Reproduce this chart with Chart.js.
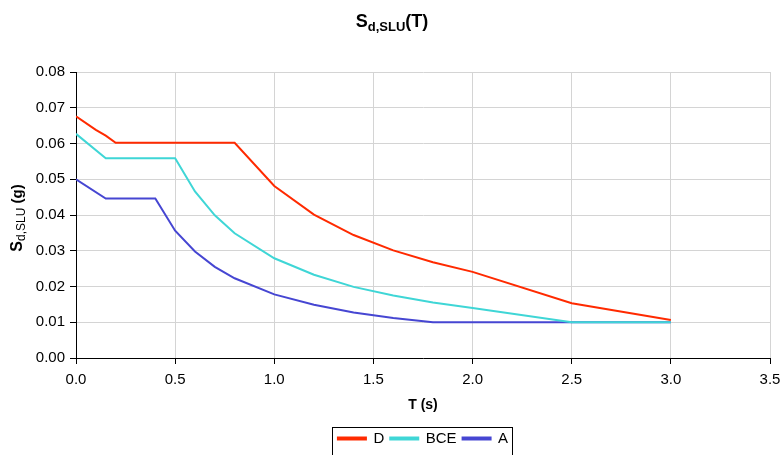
<!DOCTYPE html>
<html>
<head>
<meta charset="utf-8">
<script src="https://cdn.jsdelivr.net/npm/chart.js@4"></script>
<style>
  html, body { margin: 0; padding: 0; background: #fff; }
  #wrap { width: 783px; height: 455px; position: relative; }
</style>
</head>
<body>
<div id="wrap"><canvas id="chart"></canvas></div>
<script>
// values
const tD = [0, 0.1, 0.15, 0.2, 0.8, 1.0, 1.2, 1.4, 1.6, 1.8, 2.0, 2.5, 3.0];
const sD = [0.0676, 0.0638, 0.0622, 0.0602, 0.0602, 0.0481, 0.0401, 0.0344, 0.0301, 0.0268, 0.0241, 0.0153, 0.0106];

const tBCE = [0, 0.15, 0.5, 0.6, 0.7, 0.8, 1.0, 1.2, 1.4, 1.6, 1.8, 2.0, 2.5, 3.0];
const sBCE = [0.0627, 0.0559, 0.0559, 0.0466, 0.0399, 0.0349, 0.0279, 0.0233, 0.0199, 0.0175, 0.0155, 0.0140, 0.0100, 0.0100];

const tA = [0, 0.15, 0.4, 0.5, 0.6, 0.7, 0.8, 1.0, 1.2, 1.4, 1.6, 1.8, 2.5, 3.0];
const sA = [0.0500, 0.0446, 0.0446, 0.0356, 0.0298, 0.0255, 0.0223, 0.0178, 0.0149, 0.0127, 0.0112, 0.0100, 0.0100, 0.0100];

const seriesNames = ["D", "BCE", "A"];
const seriesColors = ["#ff2a00", "#3fd6d6", "#4646d2"];

const xTicks = { min: 0, max: 3.5, step: 0.5 };
const yTicks = { min: 0, max: 0.08, step: 0.01 };

const FONT = "'Liberation Sans', Arial, sans-serif";

const toPoints = (xs, ys) => xs.map((x, i) => ({ x: x, y: ys[i] }));

// draws "S" + subscript + tail as text pieces
function drawSubText(ctx, parts, cx, cy) {
  let total = 0;
  parts.forEach(p => { ctx.font = p.font; p.w = ctx.measureText(p.text).width; total += p.w; });
  let x = cx - total / 2;
  ctx.textBaseline = "alphabetic";
  ctx.textAlign = "left";
  parts.forEach(p => {
    ctx.font = p.font;
    ctx.fillText(p.text, x, cy + (p.dy || 0));
    x += p.w;
  });
}

const extras = {
  id: "extras",
  afterLayout(chart) {
    // centre the legend under the plot area, like the original
    const lg = chart.legend;
    const d = (chart.chartArea.left + chart.chartArea.right) / 2 - (lg.left + lg.right) / 2;
    const dy = 1;
    lg.left += d;
    lg.right += d;
    lg.top += dy;
    lg.bottom += dy;
    (lg.legendHitBoxes || []).forEach(b => { b.left += d; b.top += dy; });
  },
  afterDraw(chart) {
    const ctx = chart.ctx;
    ctx.save();
    ctx.fillStyle = "#000";
    // title
    drawSubText(ctx, [
      { text: "S", font: "bold 18px " + FONT },
      { text: "d,SLU", font: "bold 13px " + FONT, dy: 4 },
      { text: "(T)", font: "bold 18px " + FONT }
    ], 392, 27);
    // y axis title
    ctx.translate(22, 218);
    ctx.rotate(-Math.PI / 2);
    drawSubText(ctx, [
      { text: "S", font: "bold 16px " + FONT },
      { text: "d,SLU", font: "12px " + FONT, dy: 3 },
      { text: " (g)", font: "bold 15px " + FONT }
    ], 0, 0);
    ctx.restore();

    // legend border
    const boxes = chart.legend.legendHitBoxes;
    if (boxes && boxes.length) {
      const l = Math.min(...boxes.map(b => b.left)) - 6;
      const r = Math.max(...boxes.map(b => b.left + b.width)) + 4;
      const t = Math.min(...boxes.map(b => b.top)) - 5;
      ctx.save();
      ctx.strokeStyle = "#000";
      ctx.lineWidth = 1;
      ctx.strokeRect(Math.round(l) + 0.5, Math.round(t) + 0.5, Math.round(r - l), 40);
      ctx.restore();
    }
  }
};

new Chart(document.getElementById("chart"), {
  type: "line",
  data: {
    datasets: [
      { label: seriesNames[0], data: toPoints(tD, sD) },
      { label: seriesNames[1], data: toPoints(tBCE, sBCE) },
      { label: seriesNames[2], data: toPoints(tA, sA) }
    ].map((ds, i) => Object.assign(ds, {
      borderColor: seriesColors[i],
      backgroundColor: seriesColors[i],
      borderWidth: 2,
      pointRadius: 0,
      tension: 0,
      fill: false
    }))
  },
  options: {
    responsive: true,
    maintainAspectRatio: false,
    devicePixelRatio: 1,
    animation: false,
    layout: { padding: { top: 72, right: 13, left: 0, bottom: 0 } },
    plugins: {
      title: { display: false },
      tooltip: { enabled: false },
      legend: {
        position: "bottom",
        labels: {
          boxWidth: 28,
          boxHeight: 2,
          padding: 6,
          color: "#000",
          font: { family: FONT, size: 15 }
        }
      }
    },
    scales: {
      x: {
        type: "linear",
        min: xTicks.min,
        max: xTicks.max,
        afterFit(scale) {
          scale.height = 66;
          scale.paddingRight = 0;
          scale.paddingLeft = 0;
        },
        ticks: {
          stepSize: xTicks.step,
          color: "#000",
          padding: 7,
          maxRotation: 0,
          font: { family: FONT, size: 15 },
          callback: v => Number(v).toFixed(1)
        },
        grid: { color: "#d4d4d4", tickColor: "#000", tickLength: 6, lineWidth: 1 },
        border: { color: "#000", width: 1 },
        title: {
          display: true,
          text: "T (s)",
          color: "#000",
          font: { family: FONT, size: 14, weight: "bold" },
          padding: { top: 6, bottom: 10 }
        }
      },
      y: {
        min: yTicks.min,
        max: yTicks.max,
        afterFit(scale) { scale.width = 76; },
        ticks: {
          stepSize: yTicks.step,
          color: "#000",
          padding: 5,
          font: { family: FONT, size: 15 },
          callback: v => Number(v).toFixed(2)
        },
        grid: { color: "#d4d4d4", tickColor: "#000", tickLength: 6, lineWidth: 1 },
        border: { color: "#000", width: 1 }
      }
    }
  },
  plugins: [extras]
});
</script>
</body>
</html>
